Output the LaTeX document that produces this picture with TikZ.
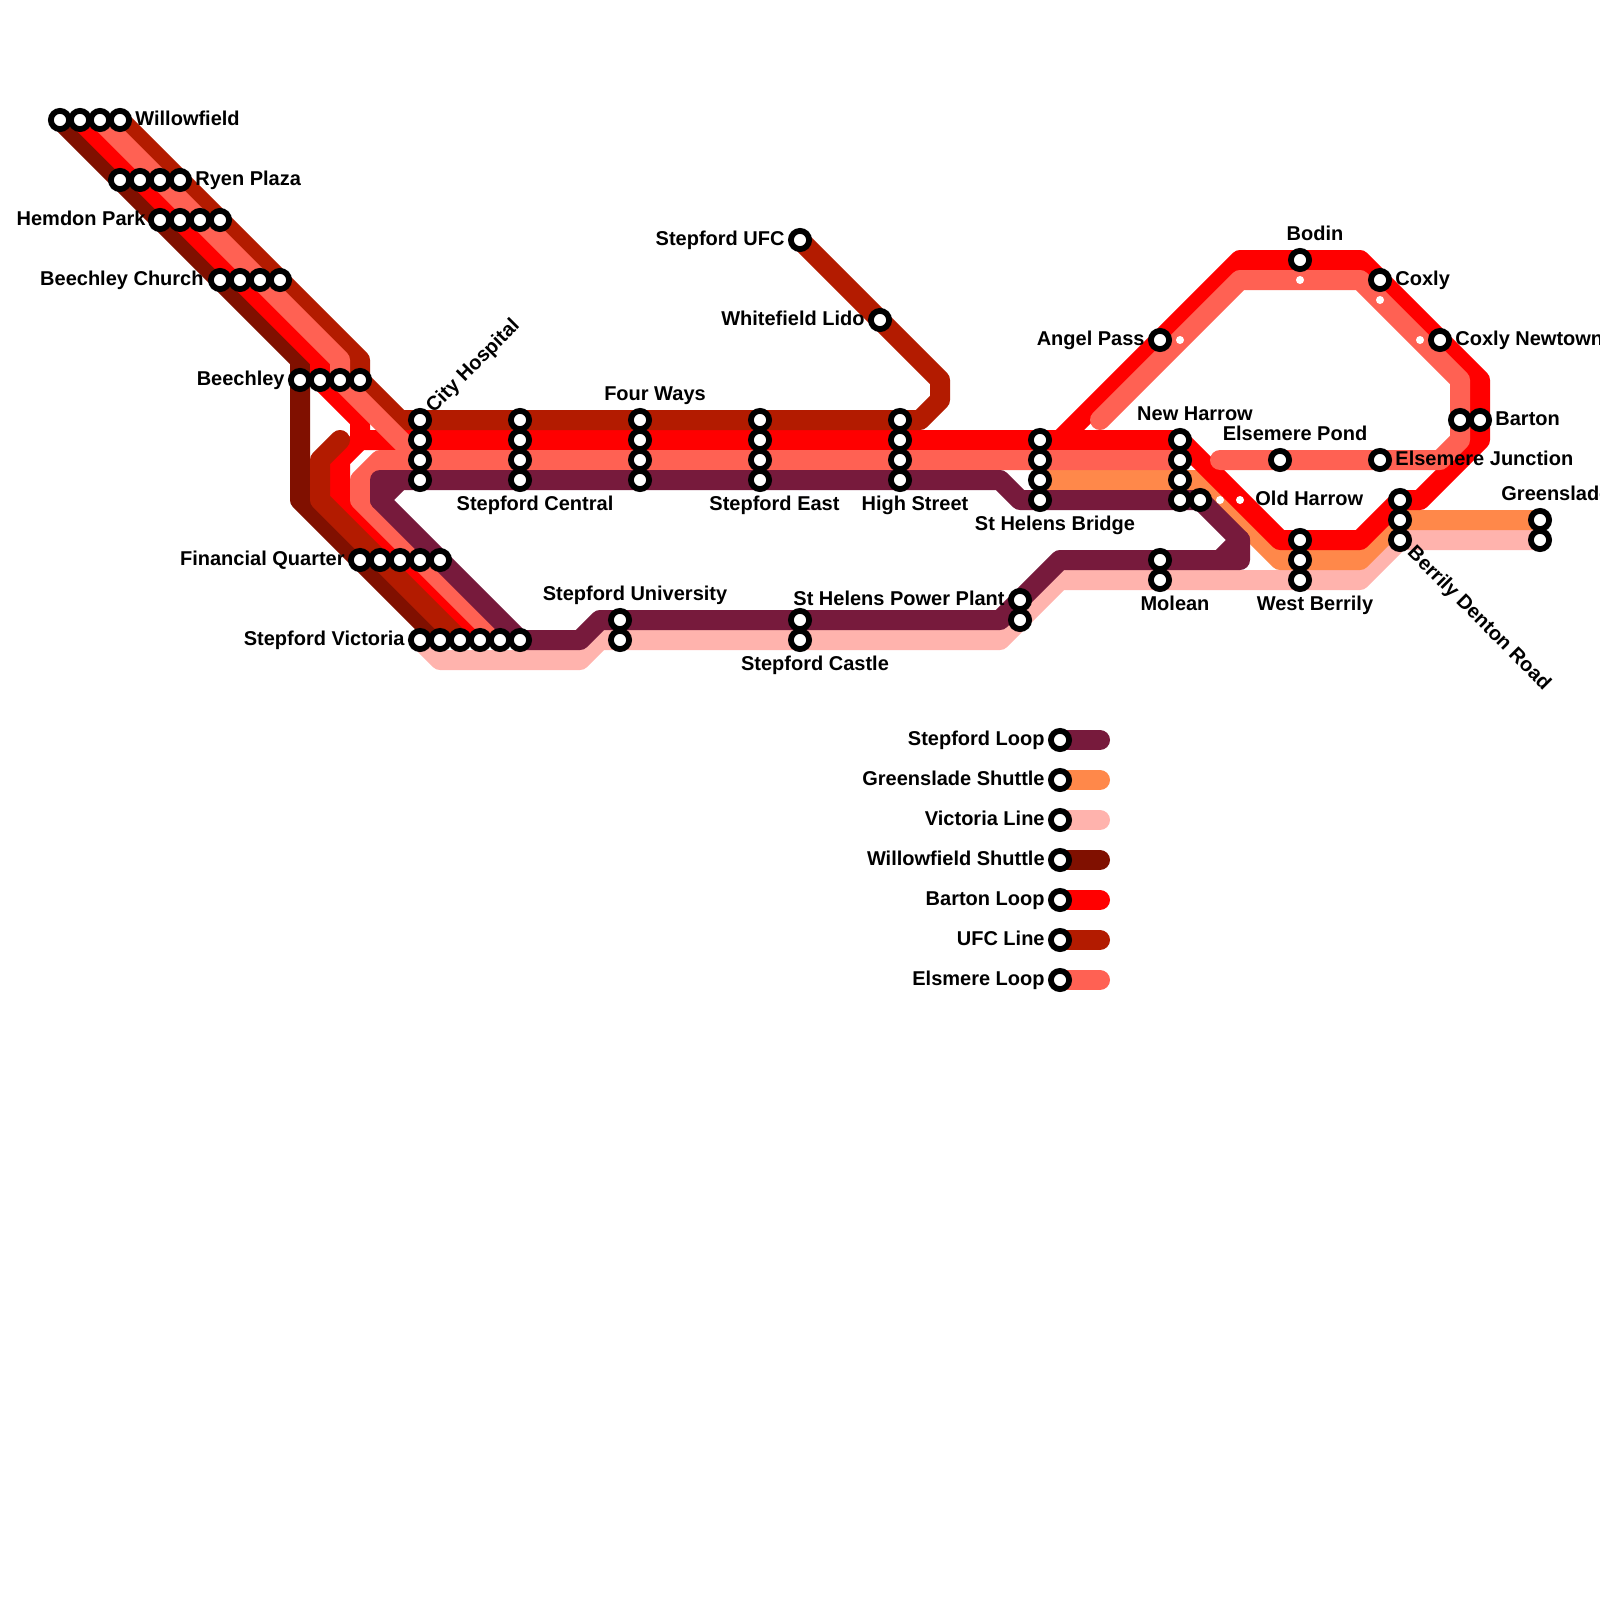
\documentclass[tikz,border=0pt]{standalone}
\usepackage{fontspec}
\setmainfont{Liberation Sans}
\definecolor{cLoop}{HTML}{771A3C}
\definecolor{cGreen}{HTML}{FF884A}
\definecolor{cVic}{HTML}{FFB3AD}
\definecolor{cShut}{HTML}{801000}
\definecolor{cBart}{HTML}{FF0000}
\definecolor{cUfc}{HTML}{B31B00}
\definecolor{cEls}{HTML}{FF6153}
\tikzset{
  route/.style={line width=10pt,line join=round,line cap=round},
  stn/.style={circle,draw=black,fill=white,line width=2.9pt,minimum size=9.1pt,inner sep=0pt},
  spot/.style={circle,fill=white,minimum size=4pt,inner sep=0pt},
  lab/.style={font=\bfseries\fontsize{10}{12}\selectfont,inner sep=0pt,text=black,text height=7.3pt,text depth=2.1pt},
}
\begin{document}
\begin{tikzpicture}[x=0.5pt,y=-0.5pt]
\path[use as bounding box] (0,0) rectangle (1600,1600);
% station positions
\foreach \x/\y in {60/120,80/120,100/120,120/120,120/180,140/180,160/180,180/180,
  160/220,180/220,200/220,220/220,220/280,240/280,260/280,280/280,
  300/380,320/380,340/380,360/380,
  420/420,420/440,420/460,420/480,520/420,520/440,520/460,520/480,
  640/420,640/440,640/460,640/480,760/420,760/440,760/460,760/480,
  900/420,900/440,900/460,900/480,1040/440,1040/460,1040/480,1040/500,
  1180/440,1180/460,1180/480,1180/500,1200/500,
  360/560,380/560,400/560,420/560,440/560,
  420/640,440/640,460/640,480/640,500/640,520/640,
  620/620,620/640,800/620,800/640,1020/600,1020/620,1160/560,1160/580,
  1300/540,1300/560,1300/580,1400/500,1400/520,1400/540,1540/520,1540/540,
  1280/460,1380/460,800/240,880/320,1160/340,1300/260,1380/280,1440/340,
  1460/420,1480/420,
  1060/740,1060/780,1060/820,1060/860,1060/900,1060/940,1060/980}
  {\coordinate (p\x y\y) at (\x,\y);}
\foreach \y in {740,780,820,860,900,940,980}{\coordinate (e\y) at (1100,\y);}
% Victoria Line
\draw[route,cVic] (p420y640) -- (440,660) -- (580,660) -- (600,640) -- (p620y640) -- (p800y640) -- (1000,640) -- (p1020y620) -- (1060,580) -- (p1160y580) -- (p1300y580) -- (1360,580) -- (p1400y540) -- (p1540y540);
% Willowfield Shuttle
\draw[route,cShut] (p60y120) -- (300,360) -- (p300y380) -- (300,500) -- (p360y560) -- (p440y640);
% Greenslade Shuttle
\draw[route,cGreen] (p1040y480) -- (p1180y480) -- (1200,480) -- (1280,560) -- (p1300y560) -- (1360,560) -- (p1400y520) -- (p1540y520);
% Barton Loop
\draw[route,cBart] (p80y120) -- (320,360) -- (p320y380) -- (360,420) -- (360,440) -- (340,460) -- (340,500) -- (p400y560) -- (p480y640);
\draw[route,cBart] (360,440) -- (p420y440) -- (p1180y440) -- (1280,540) -- (p1300y540) -- (1360,540) -- (p1400y500) -- (1420,500) -- (1480,440) -- (p1480y420) -- (1480,380) -- (p1440y340) -- (1360,260) -- (p1300y260) -- (1240,260) -- (p1160y340) -- (1060,440);
% UFC Line
\draw[route,cUfc] (p800y240) -- (p880y320) -- (940,380) -- (940,400) -- (920,420) -- (p420y420) -- (400,420) -- (p360y380) -- (360,360) -- (p120y120);
\draw[route,cUfc] (340,440) -- (320,460) -- (320,500) -- (p380y560) -- (p460y640);
% Elsmere Loop
\draw[route,cEls] (p100y120) -- (340,360) -- (p340y380) -- (p420y460) -- (p1180y460);
\draw[route,cEls] (p420y460) -- (380,460) -- (360,480) -- (360,500) -- (p420y560) -- (p500y640);
\draw[route,cEls] (1100,420) -- (1240,280) -- (1360,280) -- (1460,380) -- (p1460y420) -- (1460,440) -- (1440,460) -- (p1380y460) -- (p1280y460) -- (1220,460);
% Stepford Loop
\draw[route,cLoop] (p420y480) -- (380,480) -- (380,500) -- (p440y560) -- (p520y640) -- (580,640) -- (600,620) -- (p620y620) -- (p800y620) -- (1000,620) -- (p1020y600) -- (1060,560) -- (p1160y560) -- (1240,560) -- (1240,540) -- (p1200y500) -- (p1180y500) -- (p1040y500) -- (1020,500) -- (1000,480) -- cycle;
\draw[route,cLoop] (400,480) -- (380,500);
\draw[route,cLoop] (1220,560) -- (1240,540);
% legend lines
\draw[route,cLoop] (p1060y740) -- (e740);
\draw[route,cGreen] (p1060y780) -- (e780);
\draw[route,cVic] (p1060y820) -- (e820);
\draw[route,cShut] (p1060y860) -- (e860);
\draw[route,cBart] (p1060y900) -- (e900);
\draw[route,cUfc] (p1060y940) -- (e940);
\draw[route,cEls] (p1060y980) -- (e980);
% station markers
\foreach \x/\y in {60/120,80/120,100/120,120/120,120/180,140/180,160/180,180/180,
  160/220,180/220,200/220,220/220,220/280,240/280,260/280,280/280,
  300/380,320/380,340/380,360/380,
  420/420,420/440,420/460,420/480,520/420,520/440,520/460,520/480,
  640/420,640/440,640/460,640/480,760/420,760/440,760/460,760/480,
  900/420,900/440,900/460,900/480,1040/440,1040/460,1040/480,1040/500,
  1180/440,1180/460,1180/480,1180/500,1200/500,
  360/560,380/560,400/560,420/560,440/560,
  420/640,440/640,460/640,480/640,500/640,520/640,
  620/620,620/640,800/620,800/640,1020/600,1020/620,1160/560,1160/580,
  1300/540,1300/560,1300/580,1400/500,1400/520,1400/540,1540/520,1540/540,
  1280/460,1380/460,800/240,880/320,1160/340,1300/260,1380/280,1440/340,
  1460/420,1480/420,
  1060/740,1060/780,1060/820,1060/860,1060/900,1060/940,1060/980}
  {\node[stn] (s\x y\y) at (p\x y\y) {};}
% small interchange dots
\foreach \x/\y in {1180/340,1300/280,1380/300,1420/340,1220/500,1240/500}
  {\node[spot] (d\x y\y) at (\x,\y) {};}
% labels
\node[lab,anchor=west] (l1) at (135,120) {Willowfield};
\node[lab,anchor=west] (l2) at (195,180) {Ryen Plaza};
\node[lab,anchor=east] (l3) at (146,220) {Hemdon Park};
\node[lab,anchor=east] (l4) at (204,280) {Beechley Church};
\node[lab,anchor=east] (l5) at (285,380) {Beechley};
\node[lab,anchor=west,rotate=45] (l6) at (430,410) {City Hospital};
\node[lab] (l7) at (655,395) {Four Ways};
\node[lab] (l8) at (535,505) {Stepford Central};
\node[lab] (l9) at (774.5,505) {Stepford East};
\node[lab] (l10) at (915,505) {High Street};
\node[lab] (l11) at (1055,525) {St Helens Bridge};
\node[lab,anchor=east] (l12) at (785,240) {Stepford UFC};
\node[lab,anchor=east] (l13) at (865,320) {Whitefield Lido};
\node[lab,anchor=east] (l14) at (1145,340) {Angel Pass};
\node[lab] (l15) at (1195,415) {New Harrow};
\node[lab] (l16) at (1295,435) {Elsemere Pond};
\node[lab] (l17) at (1315,235) {Bodin};
\node[lab,anchor=west] (l18) at (1395,280) {Coxly};
\node[lab,anchor=west] (l19) at (1455,340) {Coxly Newtown};
\node[lab,anchor=west] (l20) at (1501,495) {Greenslade};
\node[lab,anchor=west] (l21) at (1495,420) {Barton};
\node[lab,anchor=west] (l22) at (1395,460) {Elsemere Junction};
\node[lab,anchor=west] (l23) at (1255,500) {Old Harrow};
\node[lab,anchor=west,rotate=-45] (l24) at (1410,550) {Berrily Denton Road};
\node[lab] (l25) at (1315,605) {West Berrily};
\node[lab] (l26) at (1175,605) {Molean};
\node[lab] (l27) at (815,665) {Stepford Castle};
\node[lab] (l28) at (635,595) {Stepford University};
\node[lab,anchor=east] (l29) at (1005,600) {St Helens Power Plant};
\node[lab,anchor=east] (l30) at (345,560) {Financial Quarter};
\node[lab,anchor=east] (l31) at (405,640) {Stepford Victoria};
% legend labels
\node[lab,anchor=east] (k1) at (1045,740) {Stepford Loop};
\node[lab,anchor=east] (k2) at (1045,780) {Greenslade Shuttle};
\node[lab,anchor=east] (k3) at (1045,820) {Victoria Line};
\node[lab,anchor=east] (k4) at (1045,860) {Willowfield Shuttle};
\node[lab,anchor=east] (k5) at (1045,900) {Barton Loop};
\node[lab,anchor=east] (k6) at (1045,940) {UFC Line};
\node[lab,anchor=east] (k7) at (1045,980) {Elsmere Loop};
\end{tikzpicture}
\end{document}
